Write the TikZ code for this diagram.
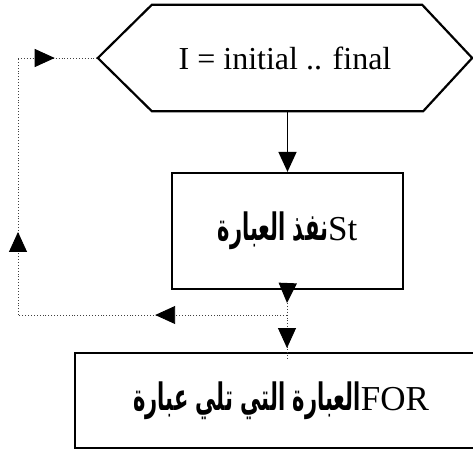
\documentclass[tikz,border=0pt]{standalone}
\usepackage{fontspec}
\usepackage{graphicx}
\setmainfont{Liberation Serif}
\newfontfamily\arabicfont[Script=Arabic]{DejaVu Sans}
\TeXXeTstate=1
\usetikzlibrary{arrows.meta,calc,decorations.markings}
\tikzset{
  boxline/.style={draw=black, line width=2.2pt},
  flow/.style={line width=1.6pt, -{Triangle[length=20pt,width=18pt]}},
  loopline/.style={dotted, line width=0.9pt, draw=black!75},
  midtip/.style={postaction={decorate, decoration={markings,
      mark=at position #1 with {\arrow[black,solid]{Triangle[length=20pt,width=18pt]}}}}},
  latin/.style={font=\fontsize{32}{38}\selectfont},
}
% bold Arabic run, condensed and heightened, followed by a Latin word
\newcommand{\arb}[1]{\scalebox{0.75}[1.35]{\arabicfont\bfseries\fontsize{28}{36}\selectfont\beginR #1\endR}}
\newcommand{\lat}[1]{{\fontsize{35}{42}\selectfont #1}}
\begin{document}
\begin{tikzpicture}[x=1pt,y=-1pt]
  \useasboundingbox (0,0) rectangle (473,452);

  % loop header
  \node[latin, minimum width=374pt, minimum height=106pt, inner sep=0pt] (hex) at (285,58)
    {I = initial .. final};
  \draw[boxline, line join=miter]
    (hex.west) -- ($(hex.north west)+(54,0)$) -- ($(hex.north east)+(-50,0)$)
    -- (hex.east) -- ($(hex.south east)+(-49,0)$) -- ($(hex.south west)+(54,0)$) -- cycle;

  % loop body
  \node[boxline, minimum width=231pt, minimum height=116pt, inner sep=0pt] (stmt) at (287.5,231)
    {\arb{نفذ العبارة}\lat{St}};

  % statement after the loop
  \node[boxline, minimum width=412pt, minimum height=95pt, inner sep=0pt] (next) at (281,400.5)
    {\arb{العبارة التي تلي عبارة}\lat{FOR}};

  % junction points of the flow
  \coordinate (j1) at (287,303);
  \coordinate (j2) at (287,315);
  \coordinate (tail) at (287,360);
  \coordinate (lft) at (18,315);
  \coordinate (lup) at (18,58);

  % forward flow
  \draw[flow] (hex.south -| stmt.north) -- (stmt.north);
  \draw[flow] (stmt.south) -- (j1);
  \draw[loopline, midtip=0.79] (j1) -- (tail);

  % back edge to the header
  \draw[loopline, midtip=0.49] (j2) -- (lft);
  \draw[loopline, midtip=0.323] (lft) -- (lup);
  \draw[loopline, midtip=0.46] (lup) -- (hex.west);
\end{tikzpicture}
\end{document}
